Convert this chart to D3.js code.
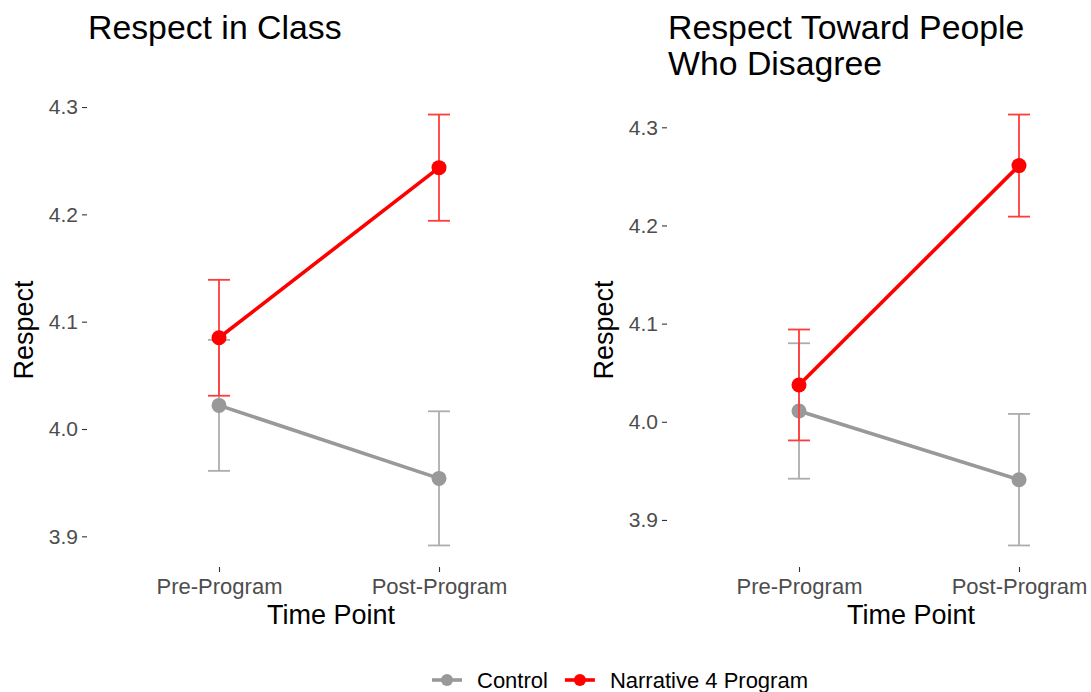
<!DOCTYPE html>
<html>
<head>
<meta charset="utf-8">
<script src="https://cdn.jsdelivr.net/npm/d3@7"></script>
<style>
  html, body { margin: 0; padding: 0; background: #ffffff; }
  svg { display: block; font-family: "Liberation Sans", Arial, Helvetica, sans-serif; }
</style>
</head>
<body>
<svg id="chart" width="1091" height="692"></svg>
<script>
// Time points and groups
const timePoints = ["Pre-Program", "Post-Program"];
const groups = ["Control", "Narrative 4 Program"];

// Respect in Class: means and standard errors per time point
const classControlMean = [4.022, 3.954];
const classControlSE = [0.061, 0.0625];
const classNarrativeMean = [4.085, 4.2435];
const classNarrativeSE = [0.054, 0.0495];

// Respect Toward People Who Disagree: means and standard errors
const disagreeControlMean = [4.011, 3.941];
const disagreeControlSE = [0.069, 0.067];
const disagreeNarrativeMean = [4.0375, 4.261];
const disagreeNarrativeSE = [0.0565, 0.052];

// Y tick values shown on both panels
const yTicks = [3.9, 4.0, 4.1, 4.2, 4.3];

const groupColors = { "Control": "#999999", "Narrative 4 Program": "#FF0000" };
const barColors = { "Control": "#ADADAD", "Narrative 4 Program": "#FF3B3B" };

function buildSeries(ctrlMean, ctrlSE, narrMean, narrSE) {
  return [
    { group: groups[0], values: timePoints.map((t, i) => ({ t, mean: ctrlMean[i], se: ctrlSE[i] })) },
    { group: groups[1], values: timePoints.map((t, i) => ({ t, mean: narrMean[i], se: narrSE[i] })) }
  ];
}

const panels = [
  { titleLines: ["Respect in Class"], x0: 87, series: buildSeries(classControlMean, classControlSE, classNarrativeMean, classNarrativeSE) },
  { titleLines: ["Respect Toward People", "Who Disagree"], x0: 667, series: buildSeries(disagreeControlMean, disagreeControlSE, disagreeNarrativeMean, disagreeNarrativeSE) }
];

const svg = d3.select("#chart");
svg.append("rect").attr("width", 1091).attr("height", 692).attr("fill", "#ffffff");

const panelW = 484, panelTop = 93, panelBottom = 567;

panels.forEach(p => {
  const g = svg.append("g");

  // y extent covers the error bars, padded by 5% on each side
  const lo = d3.min(p.series, s => d3.min(s.values, v => v.mean - v.se));
  const hi = d3.max(p.series, s => d3.max(s.values, v => v.mean + v.se));
  const pad = (hi - lo) * 0.05;
  const y = d3.scaleLinear().domain([lo - pad, hi + pad]).range([panelBottom, panelTop]);
  const x = d3.scalePoint().domain(timePoints).range([p.x0, p.x0 + panelW]).padding(0.6);

  // Y axis (ticks and labels only)
  const yAxis = g.append("g")
    .attr("transform", `translate(${p.x0},0)`)
    .call(d3.axisLeft(y).tickValues(yTicks).tickFormat(d3.format(".1f")).tickSize(5).tickPadding(4));
  yAxis.select(".domain").remove();
  yAxis.selectAll(".tick line").attr("stroke", "#333333").attr("stroke-width", 1.1);
  yAxis.selectAll(".tick text").attr("fill", "#4D4D4D").style("font-size", "21px")
    .style("font-family", "'Liberation Sans', Arial, sans-serif");

  // X axis
  const xAxis = g.append("g")
    .attr("transform", `translate(0,${panelBottom})`)
    .call(d3.axisBottom(x).tickSize(5).tickPadding(6));
  xAxis.select(".domain").remove();
  xAxis.selectAll(".tick line").attr("stroke", "#333333").attr("stroke-width", 1.1);
  xAxis.selectAll(".tick text").attr("fill", "#4D4D4D").style("font-size", "22px")
    .style("font-family", "'Liberation Sans', Arial, sans-serif");

  // Axis titles
  g.append("text")
    .attr("x", p.x0 + panelW / 2 + 2).attr("y", 624)
    .attr("text-anchor", "middle").attr("fill", "#000000")
    .style("font-size", "27px").text("Time Point");
  g.append("text")
    .attr("transform", `translate(${p.x0 - 54},${(panelTop + panelBottom) / 2}) rotate(-90)`)
    .attr("text-anchor", "middle").attr("fill", "#000000")
    .style("font-size", "27px").text("Respect");

  // Panel title
  const title = g.append("text")
    .attr("x", p.x0 + 1).attr("y", 39)
    .attr("fill", "#000000").style("font-size", "33.8px");
  p.titleLines.forEach((line, i) => {
    title.append("tspan").attr("x", p.x0 + 1).attr("dy", i === 0 ? 0 : 36).text(line);
  });

  const line = d3.line().x(d => x(d.t)).y(d => y(d.mean));
  const capHalf = 11;

  // Each group: error bars, connecting line, then points
  p.series.forEach(s => {
    const gg = g.append("g");
    const eb = gg.selectAll("g.eb").data(s.values).join("g").attr("class", "eb")
      .attr("stroke", barColors[s.group]).attr("stroke-width", 1.8);
    eb.append("line")
      .attr("x1", d => x(d.t)).attr("x2", d => x(d.t))
      .attr("y1", d => y(d.mean - d.se)).attr("y2", d => y(d.mean + d.se));
    eb.append("line")
      .attr("x1", d => x(d.t) - capHalf).attr("x2", d => x(d.t) + capHalf)
      .attr("y1", d => y(d.mean + d.se)).attr("y2", d => y(d.mean + d.se));
    eb.append("line")
      .attr("x1", d => x(d.t) - capHalf).attr("x2", d => x(d.t) + capHalf)
      .attr("y1", d => y(d.mean - d.se)).attr("y2", d => y(d.mean - d.se));

    gg.append("path").datum(s.values)
      .attr("d", line).attr("fill", "none")
      .attr("stroke", groupColors[s.group]).attr("stroke-width", 3.6);

    gg.selectAll("circle").data(s.values).join("circle")
      .attr("cx", d => x(d.t)).attr("cy", d => y(d.mean)).attr("r", 7.5)
      .attr("fill", groupColors[s.group]);
  });
});

// Legend at the bottom, centred
const legend = svg.append("g").attr("transform", "translate(0,680)");
let lx = 432;
groups.forEach(gName => {
  const item = legend.append("g").attr("transform", `translate(${lx},0)`);
  item.append("line").attr("x1", 0).attr("x2", 30).attr("y1", 0).attr("y2", 0)
    .attr("stroke", groupColors[gName]).attr("stroke-width", 3.6);
  item.append("circle").attr("cx", 15).attr("cy", 0).attr("r", 6).attr("fill", groupColors[gName]);
  const t = item.append("text").attr("x", 45).attr("y", 8)
    .attr("fill", "#000000").style("font-size", "22px").text(gName);
  lx += 45 + t.node().getComputedTextLength() + 17;
});
</script>
</body>
</html>
